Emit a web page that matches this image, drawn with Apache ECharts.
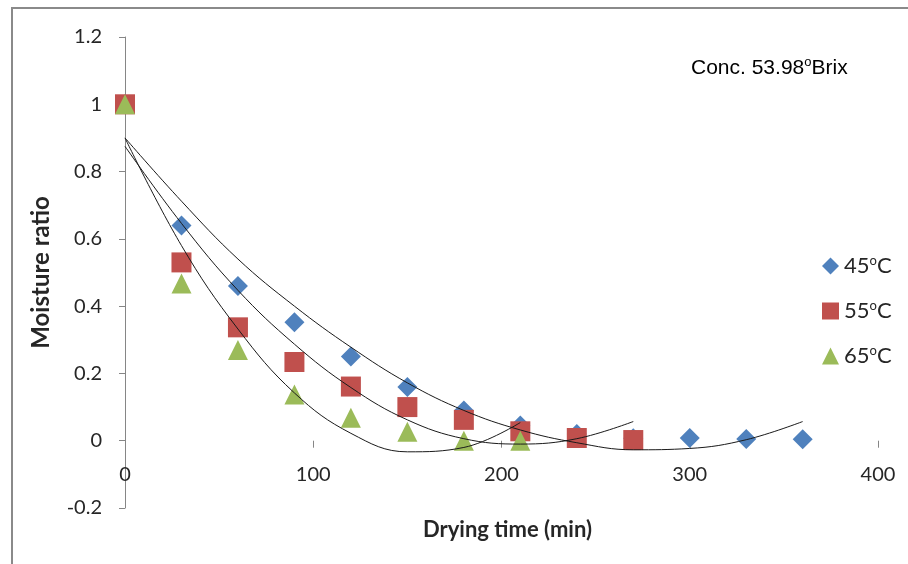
<!DOCTYPE html>
<html>
<head>
<meta charset="utf-8">
<script src="https://cdn.jsdelivr.net/npm/echarts@6/dist/echarts.min.js"></script>
<style>
  html, body { margin: 0; padding: 0; background: #fff; }
  #chart { width: 908px; height: 564px; }
</style>
</head>
<body>
<div id="chart"></div>
<script>
// drying time (min) per temperature
const time45 = [0, 30, 60, 90, 120, 150, 180, 210, 240, 270, 300, 330, 360]
const time55 = [0, 30, 60, 90, 120, 150, 180, 210, 240, 270]
const time65 = [0, 30, 60, 90, 120, 150, 180, 210]

// measured moisture ratio
const mr45 = [1, 0.64, 0.46, 0.352, 0.25, 0.16, 0.09, 0.045, 0.02, 0.007, 0.008, 0.005, 0.004]
const mr55 = [1, 0.53, 0.337, 0.234, 0.161, 0.10, 0.062, 0.028, 0.008, 0.002]
const mr65 = [1, 0.467, 0.27, 0.137, 0.068, 0.027, 0, 0]

// polynomial trend lines at the same times
const trend45 = [0.90, 0.712, 0.54, 0.40, 0.278, 0.172, 0.09, 0.032, -0.006, -0.027, -0.023, 0.003, 0.057]
const trend55 = [0.875, 0.646, 0.447, 0.287, 0.158, 0.062, 0.006, -0.01, 0.006, 0.057]
const trend65 = [0.90, 0.58, 0.332, 0.142, 0.022, -0.033, -0.02, 0.054]

const names = ['45{s|o}C', '55{s|o}C', '65{s|o}C']
const colors = ['#4F81BD', '#C0504D', '#9BBB59']
const symbols = ['diamond', 'rect', 'triangle']

const xTicks = [0, 100, 200, 300, 400]
const yTicks = [-0.2, 0, 0.2, 0.4, 0.6, 0.8, 1, 1.2]

const font = 'Lato, "Open Sans", sans-serif'
const pairs = (xs, ys) => xs.map((x, i) => [x, ys[i]])

const times = [time45, time55, time65]
const measured = [mr45, mr55, mr65]
const trends = [trend45, trend55, trend65]

const series = []
measured.forEach((ys, i) => {
  series.push({
    name: names[i],
    type: 'scatter',
    symbol: symbols[i],
    symbolSize: 20,
    itemStyle: { color: colors[i], opacity: 1 },
    data: pairs(times[i], ys),
    z: 2 + i
  })
})
trends.forEach((ys, i) => {
  series.push({
    name: 'trend' + i,
    type: 'line',
    smooth: 0.4,
    showSymbol: false,
    symbol: 'none',
    lineStyle: { color: '#1a1a1a', width: 1 },
    data: pairs(times[i], ys),
    z: 6,
    silent: true
  })
})

const chart = echarts.init(document.getElementById('chart'))
chart.setOption({
  animation: false,
  backgroundColor: '#fff',
  title: {
    text: 'Conc. 53.98{s|o}Brix',
    left: 686,
    top: 51,
    textStyle: {
      fontFamily: '"Liberation Sans", Arial, sans-serif',
      fontSize: 21,
      fontWeight: 'normal',
      color: '#000',
      lineHeight: 24,
      rich: { s: { fontSize: 13, fontFamily: '"Liberation Sans", Arial', verticalAlign: 'top', lineHeight: 15, color: '#000' } }
    }
  },
  legend: {
    data: names,
    orient: 'vertical',
    left: 817,
    top: 249,
    itemWidth: 17,
    itemHeight: 17,
    itemGap: 21,
    textStyle: {
      fontFamily: font,
      fontSize: 22,
      color: '#262626',
      lineHeight: 24,
      rich: { s: { fontSize: 13, fontFamily: font, verticalAlign: 'top', lineHeight: 14, color: '#262626' } }
    }
  },
  graphic: [{
    type: 'rect',
    shape: { x: 12, y: 8, width: 1000, height: 1000 },
    style: { fill: 'none', stroke: '#8a8a8a', lineWidth: 2 },
    silent: true
  }],
  grid: { left: 125, right: 30, top: 37, bottom: 56, containLabel: false, outerBoundsMode: 'none' },
  xAxis: {
    type: 'value',
    min: xTicks[0],
    max: xTicks[xTicks.length - 1],
    interval: 100,
    name: 'Drying time (min)',
    nameLocation: 'middle',
    nameGap: 11,
    nameMoveOverlap: false,
    nameTextStyle: { fontFamily: font, fontSize: 22, fontWeight: 'bold', color: '#262626', padding: [0, 0, 0, 12] },
    axisLine: { show: true, onZero: true, lineStyle: { color: 'rgba(0,0,0,0)' } },
    axisTick: { show: true, inside: false, length: 7, lineStyle: { color: '#868686', width: 1 } },
    axisLabel: { margin: -43, fontFamily: font, fontSize: 20, color: '#262626' },
    splitLine: { show: false }
  },
  yAxis: {
    type: 'value',
    min: yTicks[0],
    max: yTicks[yTicks.length - 1],
    interval: 0.2,
    name: 'Moisture ratio',
    nameLocation: 'middle',
    nameGap: 72,
    nameMoveOverlap: false,
    nameTextStyle: { fontFamily: font, fontSize: 24, fontWeight: 'bold', color: '#262626' },
    axisLine: { show: true, onZero: false, lineStyle: { color: '#868686', width: 1 } },
    axisTick: { show: true, length: 6, lineStyle: { color: '#868686', width: 1 } },
    axisLabel: {
      margin: 23,
      fontFamily: font,
      fontSize: 20,
      color: '#262626',
      formatter: v => String(Math.round(v * 10) / 10)
    },
    splitLine: { show: false }
  },
  series: series
})
</script>
</body>
</html>
